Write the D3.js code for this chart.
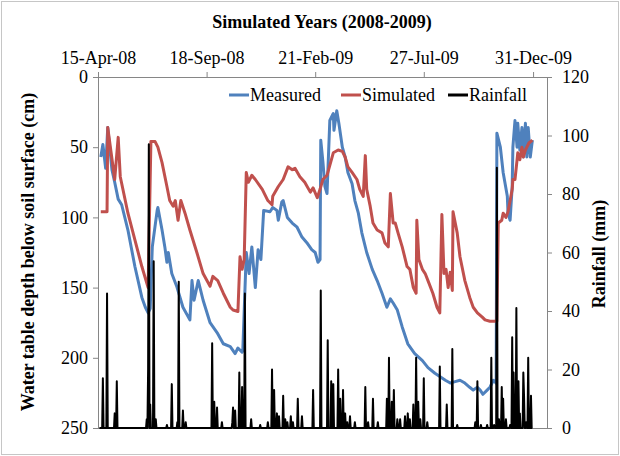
<!DOCTYPE html>
<html>
<head>
<meta charset="utf-8">
<script src="https://cdn.jsdelivr.net/npm/d3@7"></script>
<style>
  body { margin: 0; background: #fff; }
  svg text { font-family: "Liberation Serif", "Times New Roman", Times, "DejaVu Serif", serif; fill: #000; }
</style>
</head>
<body>
<div class="chart"></div>
<script>
var svgWidth = 620;
var svgHeight = 456;
var fontStack = "'Liberation Serif', 'Times New Roman', Times, 'DejaVu Serif', serif";

var margin = { top: 77, right: 73, bottom: 28, left: 98 };
var width = svgWidth - margin.left - margin.right;
var height = svgHeight - margin.top - margin.bottom;

// first day of the x axis, data use day offsets from it
var startDate = "2008-04-15";
var axisDays = 645;
var tickDates = ["2008-04-15", "2008-09-18", "2009-02-21", "2009-07-27", "2009-12-31"];
var depthTicks = [0, 50, 100, 150, 200, 250];
var rainTicks = [0, 20, 40, 60, 80, 100, 120];

// [day, depth cm]
var measured = [[4,57],[7,48],[11,65],[14,36],[20,66],[24,75],[29,87],[34,91],[43,109],[53,135],[63,157],[68,164],[72,168],[75,165],[78,121],[85,95],[86,93],[92,109],[96,121],[99,132],[101,125],[106,140],[113,149],[122,164],[132,173],[135,145],[138,159],[144,145],[151,159],[161,175],[171,182],[180,190],[190,192],[197,197],[201,193],[207,196],[208,195],[213,125],[217,140],[221,121],[226,150],[230,123],[234,130],[238,95],[247,96],[251,93],[257,95],[259,102],[264,89],[266,88],[272,100],[279,104],[286,107],[293,114],[300,118],[307,123],[312,125],[316,132],[319,130],[320,45],[323,60],[326,78],[329,83],[333,31],[338,26],[339,38],[343,24],[346,33],[351,50],[355,57],[359,68],[365,76],[369,88],[374,97],[379,111],[386,125],[394,137],[401,145],[408,154],[415,164],[420,158],[424,161],[430,166],[437,178],[445,190],[455,197],[466,202],[474,207],[484,211],[499,216],[506,218],[513,217],[520,216],[527,218],[534,221],[539,223],[545,221],[549,223],[553,226],[559,223],[563,221],[568,216],[572,218],[573,40],[578,50],[582,68],[588,85],[589,97],[592,102],[595,78],[596,50],[599,31],[602,50],[603,33],[606,52],[609,36],[611,57],[614,33],[616,57],[618,36],[621,57],[624,45]];

var simulated = [[4,96],[13,96],[14,36],[24,73],[29,43],[32,71],[43,97],[53,116],[63,135],[72,150],[76,46],[82,46],[86,50],[92,61],[99,78],[103,88],[108,92],[111,88],[115,102],[119,88],[125,97],[132,109],[142,125],[151,140],[161,149],[165,142],[172,145],[180,154],[190,164],[194,166],[201,167],[204,128],[207,137],[210,130],[213,68],[216,75],[221,70],[226,73],[236,80],[244,88],[250,91],[251,85],[259,78],[266,73],[273,64],[279,66],[283,65],[290,71],[297,75],[305,82],[309,79],[315,86],[319,80],[323,73],[329,70],[338,54],[345,52],[351,53],[355,57],[359,64],[365,68],[372,73],[376,80],[381,85],[384,56],[386,80],[391,92],[395,104],[401,109],[408,111],[412,118],[417,121],[420,83],[424,104],[427,104],[431,111],[437,121],[444,135],[448,137],[453,150],[457,154],[458,102],[461,130],[466,137],[470,140],[474,145],[481,154],[487,164],[491,168],[494,98],[497,140],[500,137],[503,150],[506,139],[509,152],[510,96],[516,111],[520,128],[527,145],[534,157],[539,164],[545,168],[552,171],[556,173],[563,174],[573,174],[575,104],[580,102],[582,97],[586,100],[589,96],[595,80],[596,73],[599,73],[602,59],[603,54],[606,59],[609,50],[611,57],[614,52],[616,50],[619,47],[624,45]];

// [day, rainfall mm], other days had no rain
var rainfall = [[7,17],[13,46],[24,5],[27,16],[70,3],[72,20],[73,97],[75,8],[80,57],[83,3],[99,1],[106,15],[114,2],[116,50],[122,6],[126,2],[164,29],[167,9],[171,7],[178,2],[193,2],[194,7],[197,6],[203,19],[207,14],[211,46],[220,3],[233,1],[244,2],[250,20],[253,13],[257,5],[260,4],[266,11],[269,3],[272,2],[277,4],[280,2],[287,10],[293,4],[309,13],[320,47],[330,30],[335,16],[338,15],[345,20],[348,10],[352,13],[355,5],[358,2],[362,4],[369,2],[384,14],[388,2],[395,10],[402,2],[415,10],[418,24],[422,9],[425,13],[430,3],[434,3],[441,4],[445,5],[448,3],[453,8],[457,24],[460,9],[463,3],[468,17],[473,2],[491,21],[501,8],[509,27],[516,1],[542,2],[545,16],[550,1],[559,1],[565,24],[569,1],[573,89],[576,3],[580,14],[582,10],[586,3],[592,1],[595,31],[597,19],[601,41],[604,16],[606,5],[611,19],[612,11],[615,2],[618,24],[622,11]];
var rainFirstDay = 2;
var rainLastDay = 624;

var svg = d3.select(".chart")
  .append("svg")
  .attr("width", svgWidth)
  .attr("height", svgHeight)
  .attr("font-family", fontStack);

// chart area border
svg.append("rect")
  .attr("x", 1.5).attr("y", 1.5)
  .attr("width", svgWidth - 3).attr("height", svgHeight - 3)
  .attr("fill", "none")
  .attr("stroke", "#c6c6c6");

var chartGroup = svg.append("g")
  .attr("transform", `translate(${margin.left}, ${margin.top})`);

var parse = d3.utcParse("%Y-%m-%d");
var start = parse(startDate);
function dayToDate(d) { return d3.utcDay.offset(start, d); }

var xScale = d3.scaleUtc()
  .domain([start, dayToDate(axisDays)])
  .range([0, width]);

var yDepth = d3.scaleLinear().domain([0, 250]).range([0, height]);
var yRain = d3.scaleLinear().domain([0, 120]).range([height, 0]);

// axes
var topAxis = d3.axisTop(xScale)
  .tickValues(tickDates.map(parse))
  .tickFormat(d3.utcFormat("%d-%b-%y"))
  .tickSize(5).tickPadding(8);
var leftAxis = d3.axisLeft(yDepth).tickValues(depthTicks).tickSize(5).tickPadding(5);
var rightAxis = d3.axisRight(yRain).tickValues(rainTicks).tickSize(5).tickPadding(10);

function styleAxis(g) {
  g.attr("font-family", fontStack).attr("font-size", 18);
  g.select(".domain").remove();
  g.selectAll(".tick line").attr("stroke", "#868686");
}

chartGroup.append("g").call(topAxis).call(styleAxis);
chartGroup.append("g").call(leftAxis).call(styleAxis);
chartGroup.append("g")
  .attr("transform", `translate(${width}, 0)`)
  .call(rightAxis).call(styleAxis);

// plot area border
chartGroup.append("rect")
  .attr("x", 0.5).attr("y", 0.5)
  .attr("width", width).attr("height", height)
  .attr("fill", "none")
  .attr("stroke", "#868686");

var line = d3.line()
  .x(d => xScale(dayToDate(d[0])))
  .y(d => yDepth(d[1]));

chartGroup.append("path")
  .datum(measured)
  .attr("d", line)
  .attr("fill", "none")
  .attr("stroke", "#4f81bd")
  .attr("stroke-width", 3)
  .attr("stroke-linejoin", "round");

chartGroup.append("path")
  .datum(simulated)
  .attr("d", line)
  .attr("fill", "none")
  .attr("stroke", "#c0504d")
  .attr("stroke-width", 3)
  .attr("stroke-linejoin", "round");

// daily rainfall series
var rainMap = new Map(rainfall);
var rainDaily = d3.range(rainFirstDay, rainLastDay + 1).map(d => [d, rainMap.get(d) || 0]);

var rainLine = d3.line()
  .x(d => xScale(dayToDate(d[0])))
  .y(d => yRain(d[1]));

chartGroup.append("path")
  .datum(rainDaily)
  .attr("d", rainLine)
  .attr("fill", "none")
  .attr("stroke", "#000")
  .attr("stroke-width", 2)
  .attr("stroke-linejoin", "round");

// legend
var legendItems = [
  { name: "Measured", color: "#4f81bd", x: 229 },
  { name: "Simulated", color: "#c0504d", x: 341 },
  { name: "Rainfall", color: "#000", x: 448 }
];
var legend = svg.append("g");
legendItems.forEach(function(item) {
  legend.append("line")
    .attr("x1", item.x).attr("x2", item.x + 20)
    .attr("y1", 95).attr("y2", 95)
    .attr("stroke", item.color)
    .attr("stroke-width", 3);
  legend.append("text")
    .attr("x", item.x + 21)
    .attr("y", 101)
    .attr("font-size", 18)
    .text(item.name);
});

// titles
svg.append("text")
  .attr("x", 322)
  .attr("y", 28)
  .attr("text-anchor", "middle")
  .attr("font-size", 18)
  .attr("font-weight", "bold")
  .text("Simulated Years (2008-2009)");

svg.append("text")
  .attr("transform", "translate(34, 252) rotate(-90)")
  .attr("text-anchor", "middle")
  .attr("font-size", 18)
  .attr("font-weight", "bold")
  .text("Water  table depth below soil surface (cm)");

svg.append("text")
  .attr("transform", "translate(605, 254) rotate(-90)")
  .attr("text-anchor", "middle")
  .attr("font-size", 18)
  .attr("font-weight", "bold")
  .text("Rainfall (mm)");
</script>
</body>
</html>
